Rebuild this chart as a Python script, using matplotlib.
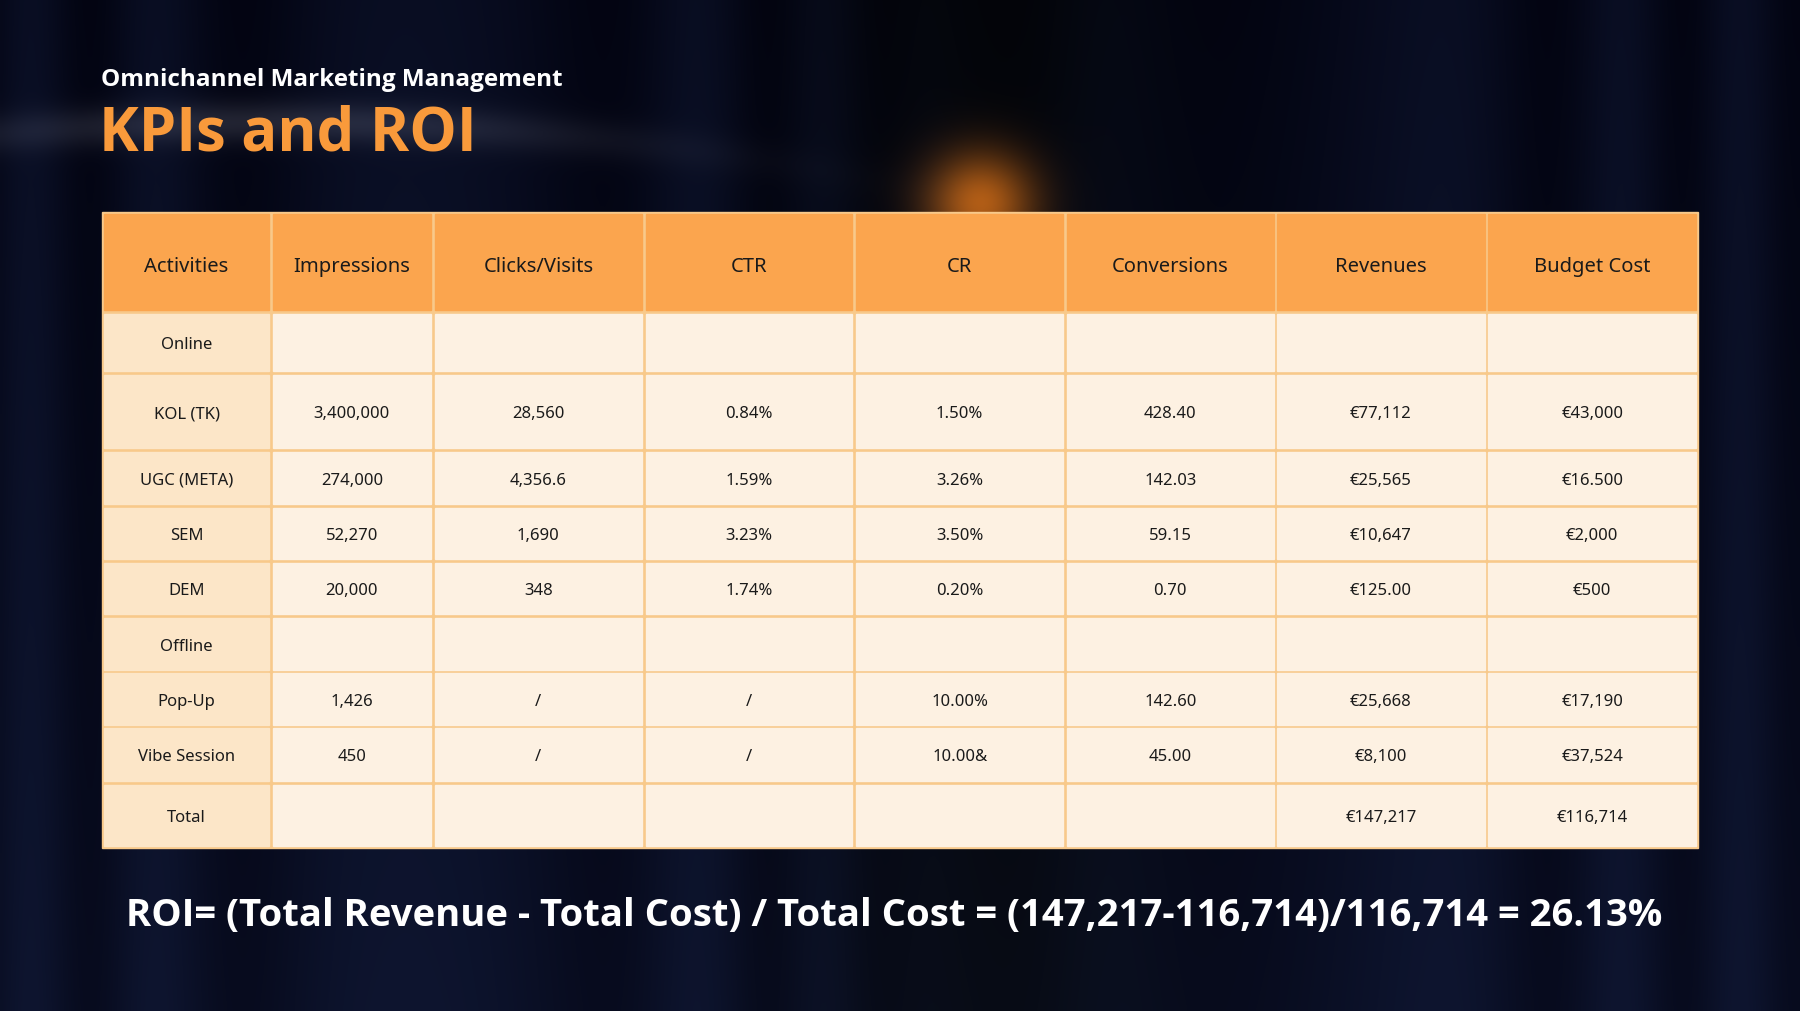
import numpy as np
import matplotlib.pyplot as plt
from matplotlib.patches import Rectangle

subtitle = "Omnichannel Marketing Management"
title = "KPIs and ROI"
headers = ["Activities", "Impressions", "Clicks/Visits", "CTR", "CR", "Conversions", "Revenues", "Budget Cost"]
activities = ["Online", "KOL (TK)", "UGC (META)", "SEM", "DEM", "Offline", "Pop-Up", "Vibe Session", "Total"]
impressions = ["", "3,400,000", "274,000", "52,270", "20,000", "", "1,426", "450", ""]
clicks = ["", "28,560", "4,356.6", "1,690", "348", "", "/", "/", ""]
ctr = ["", "0.84%", "1.59%", "3.23%", "1.74%", "", "/", "/", ""]
cr = ["", "1.50%", "3.26%", "3.50%", "0.20%", "", "10.00%", "10.00&", ""]
conversions = ["", "428.40", "142.03", "59.15", "0.70", "", "142.60", "45.00", ""]
revenues = ["", "€77,112", "€25,565", "€10,647", "€125.00", "", "€25,668", "€8,100", "€147,217"]
budget = ["", "€43,000", "€16.500", "€2,000", "€500", "", "€17,190", "€37,524", "€116,714"]
roi_text = "ROI= (Total Revenue - Total Cost) / Total Cost = (147,217-116,714)/116,714 = 26.13%"

W, H = 1568, 882
col_edges = [89, 236, 377, 561, 744, 928, 1111, 1295, 1479]
row_edges = [186, 273, 326, 393, 442, 490, 538, 586, 634, 683, 740]
bold_rows = {1, 3, 4, 6}
light_cells = {(2, c) for c in range(1, 8)} | {(7, 6)}

fig = plt.figure(figsize=(18, 10.12), dpi=100)
ax = fig.add_axes([0, 0, 1, 1])
ax.set_xlim(0, W); ax.set_ylim(H, 0); ax.axis("off")

# background
x = np.linspace(0, 1, 400)
y = np.linspace(0, 1, 225)
X, Y = np.meshgrid(x, y)
base = np.zeros((225, 400, 3))
stripes = 0.5 + 0.5 * np.sin(X * 60 + np.sin(X * 13) * 3)
dark = 1 - np.exp(-((X - 0.55) / 0.1) ** 2) * 0.9
r = 0.02 + 0.04 * stripes * dark + 0.03 * Y
base[..., 0] = r * 0.6
base[..., 1] = r * 0.9
base[..., 2] = r * 1.6 + 0.04 * dark
glow = np.exp(-(((X - 0.545) / 0.03) ** 2 + ((Y - 0.2) / 0.05) ** 2)) * 0.75
base[..., 0] += glow * 0.9
base[..., 1] += glow * 0.45
base[..., 2] += glow * 0.05
arc = np.exp(-(((Y - 0.12 - 0.5 * (X - 0.15) ** 2)) / 0.02) ** 2) * np.exp(-((X - 0.15) / 0.2) ** 2)
base += arc[..., None] * 0.12
ax.imshow(np.clip(base, 0, 1), extent=[0, W, H, 0], aspect="auto", zorder=0, interpolation="bilinear")

ax.text(88, 70, subtitle, color="white", fontsize=17.5, fontweight="bold", family="Open Sans", va="center")
ax.text(86, 118, title, color="#F99A3B", fontsize=43, fontweight="bold", family="Open Sans", va="center")

ax.add_patch(Rectangle((col_edges[0], row_edges[0]), col_edges[-1] - col_edges[0],
                       row_edges[-1] - row_edges[0], color="#F8C98A", zorder=1))
cols = [activities, impressions, clicks, ctr, cr, conversions, revenues, budget]
g = 1.6
for c in range(8):
    x0, x1 = col_edges[c], col_edges[c + 1]
    ax.add_patch(Rectangle((x0 + g, row_edges[0] + g), x1 - x0 - 2 * g, row_edges[1] - row_edges[0] - 2 * g,
                           color="#FBA54E", zorder=2))
    hw = "bold" if c != 1 else "normal"
    ax.text((x0 + x1) / 2, (row_edges[0] + row_edges[1]) / 2 + 3, headers[c], ha="center", va="center",
            fontsize=14.5, family="Noto Sans", fontweight=hw, color="#1a1a1a", zorder=3)
    for r_ in range(9):
        y0, y1 = row_edges[r_ + 1], row_edges[r_ + 2]
        fc = "#FCE6C8" if c == 0 else "#FDF1E2"
        ax.add_patch(Rectangle((x0 + g, y0 + g), x1 - x0 - 2 * g, y1 - y0 - 2 * g, color=fc, zorder=2))
        if c == 0:
            w = "bold" if r_ in {1, 2, 3, 4, 6} else "normal"
        elif r_ in bold_rows or (r_ == 7 and c != 6) or (r_ == 8):
            w = "bold"
        else:
            w = "normal"
        if (r_, c) in light_cells:
            w = "normal"
        ax.text((x0 + x1) / 2, (y0 + y1) / 2 + 1.5, cols[c][r_], ha="center", va="center",
                fontsize=12, family="Noto Sans", fontweight=w, color="#1a1a1a", zorder=3)

ax.text(779, 798, roi_text, color="white", fontsize=27.5, fontweight="bold", family="Open Sans",
        ha="center", va="center")
fig.savefig("out.png", dpi=100)
